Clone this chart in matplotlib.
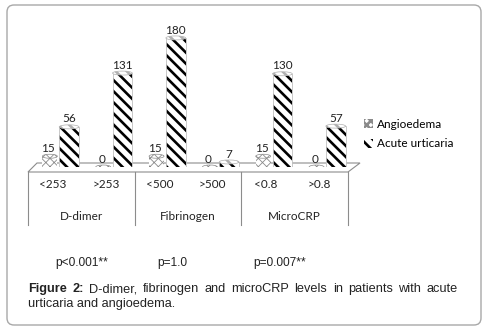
import matplotlib
matplotlib.use("Agg")
import matplotlib.pyplot as plt
from matplotlib.patches import Patch, Ellipse, FancyBboxPatch, Polygon
import numpy as np

# data
categories = ["<253", ">253", "<500", ">500", "<0.8", ">0.8"]
groups = ["D-dimer", "Fibrinogen", "MicroCRP"]
angioedema = [15, 0, 15, 0, 15, 0]
acute_urticaria = [56, 131, 180, 7, 130, 57]
p_values = ["p<0.001**", "p=1.0", "p=0.007**"]
p_xpos = [55, 157, 253]

W, H = 484, 329
fig = plt.figure(figsize=(W / 100, H / 100), dpi=100)

chart_font = ["Lato", "DejaVu Sans"]
cap_font = ["Liberation Sans", "DejaVu Sans"]

# background axes in pixel units (frame, floor, category table, texts)
bg = fig.add_axes([0, 0, 1, 1])
bg.set_xlim(0, W)
bg.set_ylim(H, 0)
bg.axis("off")

bg.add_patch(FancyBboxPatch((7, 5), 474, 320, boxstyle="round,pad=0,rounding_size=7",
                            fc="white", ec="#a8a8a8", lw=1.0))

# floor and table
bg.add_patch(Polygon([(28, 172), (348, 172), (360, 163), (37, 163)], closed=True,
                     fc="white", ec="#8c8c8c", lw=0.8))
for xv in [28, 135, 241, 348]:
    bg.plot([xv, xv], [172, 225], color="#8c8c8c", lw=0.8)

# chart axes
x0, x1 = 28, 348
base, top = 167, 20
ppu = 0.717  # pixels per unit
ax = fig.add_axes([x0 / W, 1 - base / H, (x1 - x0) / W, (base - top) / H])
ax.set_xlim(-0.5, len(categories) - 0.5)
ax.set_ylim(0, (base - top) / ppu)
ax.axis("off")

x = np.arange(len(categories))
off_a, off_u = -0.09, 0.27
w_a, w_u = 0.28, 0.37
eh = 4.0 / ppu

def set_hlw(patches, lw):
    for p in patches:
        if hasattr(p, "set_hatch_linewidth"):
            p.set_hatch_linewidth(lw)

plt.rcParams["hatch.linewidth"] = 0.6
ba = ax.bar(x + off_a, angioedema, width=w_a, color="white", edgecolor="#8a8a8a",
            linewidth=0, hatch="xxxx", label="Angioedema")
set_hlw(ba, 0.6)
plt.rcParams["hatch.linewidth"] = 1.9
bu = ax.bar(x + off_u, acute_urticaria, width=w_u, color="white", edgecolor="black",
            linewidth=0, hatch="\\\\\\", label="Acute urticaria")
set_hlw(bu, 1.9)
ax.bar(x + off_u, acute_urticaria, width=w_u, fill=False, edgecolor="#c0c0c0", linewidth=0.6)

for xi, v in zip(x, angioedema):
    e = Ellipse((xi + off_a, v), w_a, eh, fc="white", ec="#8a8a8a", lw=0.5, hatch="xxxx")
    ax.add_patch(e)
    set_hlw([e], 0.6)
    ax.text(xi + off_a - 0.03, v + eh * 0.6, str(v), ha="center", va="bottom",
            fontsize=8.5, family=chart_font, color="#222222")
for xi, v in zip(x, acute_urticaria):
    e = Ellipse((xi + off_u, v), w_u, eh, fc="white", ec="#b0b0b0", lw=0.5, hatch="\\\\\\")
    ax.add_patch(e)
    set_hlw([e], 1.9)
    ax.text(xi + off_u, v + eh * 0.6, str(v), ha="center", va="bottom",
            fontsize=8.5, family=chart_font, color="#222222")

# category and group labels
cat_w = (x1 - x0) / len(categories)
for i, c in enumerate(categories):
    bg.text(x0 + cat_w * (i + 0.5) - 2, 185, c, ha="center", va="center",
            fontsize=8.5, family=chart_font, color="#222222")
for j, g in enumerate(groups):
    bg.text(x0 + cat_w * (2 * j + 1), 216, g, ha="center", va="center",
            fontsize=8.5, family=chart_font, color="#222222")

# legend
handles = [Patch(fc="white", ec="#8a8a8a", hatch="xxxx", lw=0, label="Angioedema"),
           Patch(fc="white", ec="black", hatch="\\\\\\", lw=0, label="Acute urticaria")]
fig.legend(handles=handles, loc="upper left", bbox_to_anchor=(353 / W, 1 - 108 / H),
           frameon=False, handlelength=0.8, handleheight=0.8, handletextpad=0.3,
           labelspacing=0.75, prop={"family": chart_font, "size": 8.5})

# p values
for px, p in zip(p_xpos, p_values):
    bg.text(px, 263, p, ha="left", va="center", fontsize=8.6, family=cap_font, color="#222222")

# caption, first line justified between 28 and 458 px
cap_size = 9.2
line1 = ["Figure", "2:", "D-dimer,", "fibrinogen", "and", "microCRP", "levels", "in",
         "patients", "with", "acute"]
fig.canvas.draw()
r = fig.canvas.get_renderer()
words = []
for k, wd in enumerate(line1):
    t = bg.text(0, 289, wd, ha="left", va="center", fontsize=cap_size, family=cap_font,
                weight="bold" if k < 2 else "normal", color="#222222")
    words.append(t)
widths = [t.get_window_extent(r).width for t in words]
gap = (458 - 28 - sum(widths)) / (len(words) - 1)
xpos = 28
for t, wdt in zip(words, widths):
    t.set_x(xpos)
    xpos += wdt + gap
bg.text(28, 304, "urticaria and angioedema.", ha="left", va="center", fontsize=cap_size,
        family=cap_font, color="#222222")

fig.savefig("out.png", dpi=100)
